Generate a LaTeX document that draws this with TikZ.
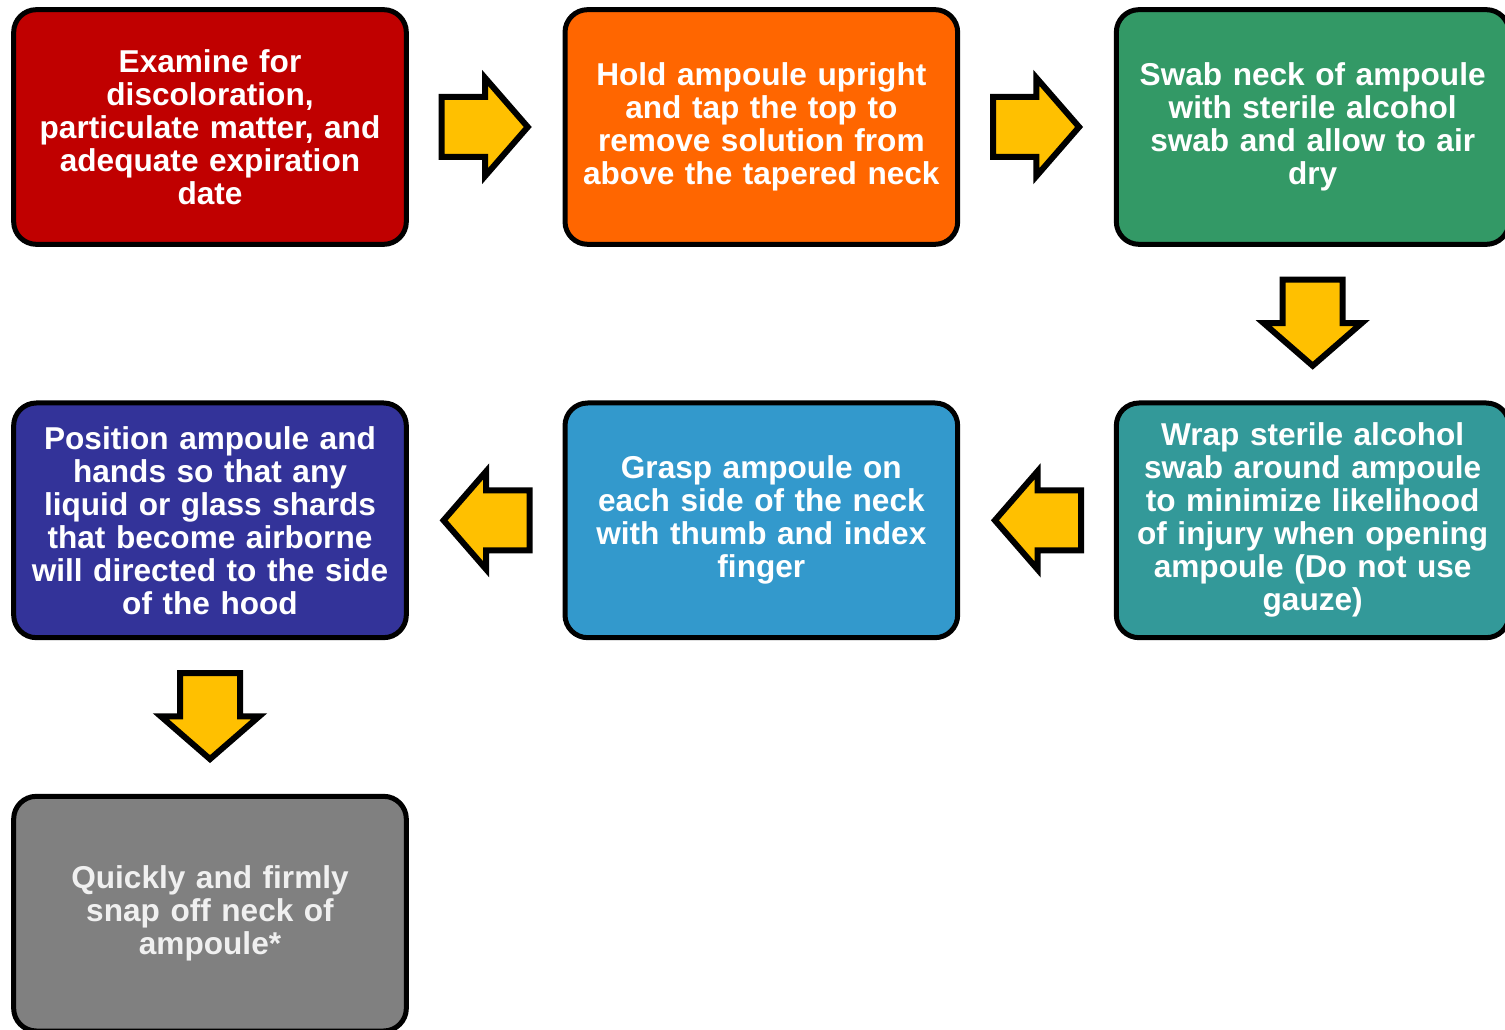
\documentclass[tikz,border=0pt]{standalone}
\usepackage{fontspec}
\setmainfont{Liberation Sans}
\usepackage{tikz}
\usetikzlibrary{shapes.arrows,positioning}
\definecolor{stepred}{HTML}{C00000}
\definecolor{steporange}{HTML}{FF6600}
\definecolor{stepgreen}{HTML}{339966}
\definecolor{stepteal}{HTML}{339999}
\definecolor{stepblue}{HTML}{3399CC}
\definecolor{stepnavy}{HTML}{333399}
\definecolor{stepgrey}{HTML}{808080}
\definecolor{arrowyellow}{HTML}{FFC000}

\begin{document}
\begin{tikzpicture}
    \tikzstyle{stepbox}=[rectangle, rounded corners=17pt, line width=3.75pt, draw=black, text=white, font=\bfseries\fontsize{23.7}{24.75}\selectfont, align=center, text width=285pt, minimum width=294.5pt, minimum height=176pt, inner sep=0pt, outer sep=0pt, node distance=119pt]
    \tikzstyle{flow}=[single arrow, draw=black, fill=arrowyellow, line width=4.5pt, minimum height=60.75pt, inner sep=20.25pt, single arrow head extend=14.25pt, single arrow tip angle=98]
    \tikzstyle{flowright}=[flow, xshift=-10.5pt]
    \tikzstyle{flowleft}=[flow, shape border rotate=180, xshift=10.5pt]
    \tikzstyle{flowdown}=[flow, shape border rotate=270, yshift=10.5pt]
    \useasboundingbox (-157.5pt,-677.25pt) rectangle (971.25pt,95.25pt);
      \node[stepbox, fill=stepred] (examine) {Examine for\\discoloration,\\particulate matter, and\\adequate expiration\\date};
      \node[stepbox, fill=steporange] (tap) [right=of examine] {Hold ampoule upright\\and tap the top to\\remove solution from\\above the tapered neck};
      \node[stepbox, fill=stepgreen] (swab) [right=of tap] {Swab neck of ampoule\\with sterile alcohol\\swab and allow to air\\dry};
      \node[stepbox, fill=stepteal] (wrap) [below=of swab] {Wrap sterile alcohol\\swab around ampoule\\to minimize likelihood\\of injury when opening\\ampoule (Do not use\\gauze)};
      \node[stepbox, fill=stepblue] (grasp) [left=of wrap] {Grasp ampoule on\\each side of the neck\\with thumb and index\\finger};
      \node[stepbox, fill=stepnavy] (position) [left=of grasp] {Position ampoule and\\hands so that any\\liquid or glass shards\\that become airborne\\will directed to the side\\of the hood};
      \node[stepbox, fill=stepgrey, text=black!6] (snap) [below=of position] {Quickly and firmly\\snap off neck of\\ampoule*};

      \path (examine) -- (tap) node[midway, flowright] (a1) {};
      \path (tap) -- (swab) node[midway, flowright] (a2) {};
      \path (swab) -- (wrap) node[midway, flowdown] (a3) {};
      \path (wrap) -- (grasp) node[midway, flowleft] (a4) {};
      \path (grasp) -- (position) node[midway, flowleft] (a5) {};
      \path (position) -- (snap) node[midway, flowdown] (a6) {};
    \end{tikzpicture}
\end{document}
